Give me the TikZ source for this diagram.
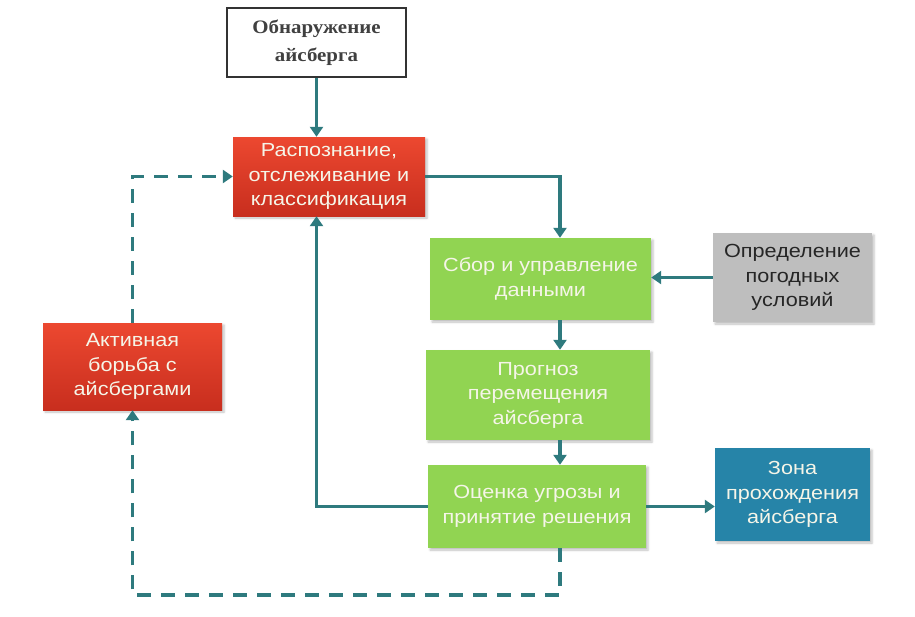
\documentclass[tikz,border=0pt]{standalone}
\usepackage{fontspec}
\setmainfont{Liberation Sans}[FakeStretch=1.14]
\newfontfamily\titlefont{Liberation Serif}[FakeStretch=1.1]
\usepackage{xcolor}
\usepackage{tikz}
\usetikzlibrary{positioning, arrows.meta, calc, shadows.blur}
\definecolor{linecolor}{RGB}{46, 122, 126}
\definecolor{redtop}{RGB}{236, 72, 48}
\definecolor{redbot}{RGB}{200, 46, 30}
\definecolor{greenbox}{RGB}{145, 212, 82}
\definecolor{graybox}{RGB}{190, 190, 190}
\definecolor{bluebox}{RGB}{38, 132, 168}
\definecolor{lighttext}{RGB}{245, 245, 232}

\begin{document}
\begin{tikzpicture}[
  x=1pt, y=-1pt,
  font=\fontsize{19}{24.5}\selectfont,
  box/.style={inner sep=0pt, align=center, blur shadow={shadow xshift=2pt, shadow yshift=-2pt, shadow opacity=25, shadow blur steps=4}},
  startbox/.style={draw=black!80, fill=white, line width=1.5pt, inner sep=0pt, align=center, font=\titlefont\bfseries\fontsize{19}{28}\selectfont, text=black!75},
  redbox/.style={box, top color=redtop, bottom color=redbot, text=lighttext},
  greenbox/.style={box, fill=greenbox, text=lighttext},
  graybox/.style={box, fill=graybox, text=black!85},
  bluebox/.style={box, fill=bluebox, text=lighttext},
  flow/.style={draw=linecolor, line width=3.5pt, -{Triangle[length=10pt, width=13pt]}},
  backflow/.style={flow, dash pattern=on 14pt off 10pt}
]
\useasboundingbox (0,0) rectangle (915,616);

\node[startbox, minimum width=179, minimum height=69] (detect) at (316.5,42.5) {Обнаружение\\айсберга};
\node[redbox, minimum width=192, minimum height=79] (recog) at (329,176.5) {Распознание,\\отслеживание и\\классификация};
\node[greenbox, minimum width=221, minimum height=82] (collect) at (540.5,279) {Сбор и управление\\данными};
\node[graybox, minimum width=159, minimum height=89] (weather) at (792.5,277.5) {Определение\\погодных\\условий};
\node[greenbox, minimum width=224, minimum height=90] (forecast) at (538,395) {Прогноз\\перемещения\\айсберга};
\node[greenbox, minimum width=218, minimum height=83] (assess) at (537,506.5) {Оценка угрозы и\\принятие решения};
\node[bluebox, minimum width=155, minimum height=93] (zone) at (792.5,494.5) {Зона\\прохождения\\айсберга};
\node[redbox, minimum width=179, minimum height=87] (fight) at (132.5,366.5) {Активная\\борьба с\\айсбергами};

\coordinate (col) at (560,0);
\coordinate (low) at (0,595);

% main flow
\draw[flow] (detect.south) -- (detect.south |- recog.north);
\draw[flow] (recog.east) -| (col |- collect.north);
\draw[flow] (weather.west) -- (weather.west -| collect.east);
\draw[flow] (col |- collect.south) -- (col |- forecast.north);
\draw[flow] (col |- forecast.south) -- (col |- assess.north);
\draw[flow] (assess.east) -- (assess.east -| zone.west);
\draw[flow] (assess.west) -| (detect.south |- recog.south);

% dashed loop
\draw[backflow] (col |- assess.south) -- (col |- low) -| (fight.south);
\draw[backflow] (fight.north) |- (recog.west);
\end{tikzpicture}
\end{document}
